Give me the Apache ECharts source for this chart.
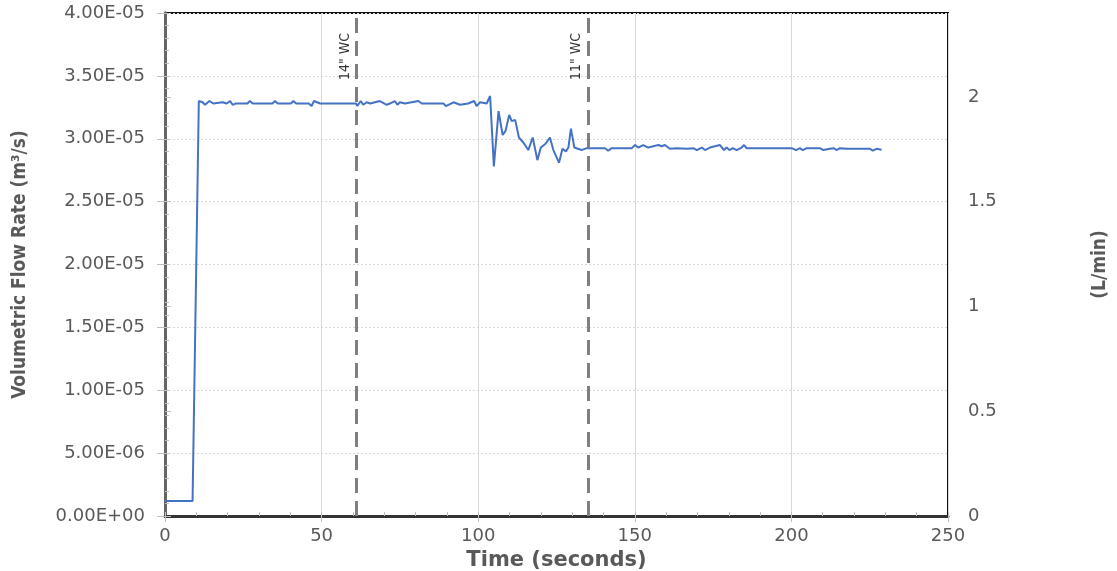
<!DOCTYPE html>
<html lang="en">
<head>
    <meta charset="UTF-8">
    <title>Volumetric Flow Rate</title>
    <script src="https://cdn.jsdelivr.net/npm/echarts@6/dist/echarts.min.js"></script>
    <style>
        html, body { margin: 0; padding: 0; background: #fff; }
        #main { width: 1117px; height: 571px; }
    </style>
</head>
<body>
    <div id="main"></div>
    <script type="text/javascript">
        // time in seconds, flow in units of 1e-5 m3/s
        const times = [
            0, 7, 7.6, 8.8, 10.8,
            12.0, 12.8, 14.2, 15.4, 18.4, 19.7, 20.8, 21.6, 22.5, 26.3, 27.1, 28.0,
            34.3, 35.1, 36.0, 40.2, 41.0, 41.9, 45.9, 46.8, 47.6, 49.5,
            61.0, 61.4, 62.5, 63.3, 64.4, 65.5, 68.6, 70.8, 71.8, 73.4, 74.2, 75.0, 76.6,
            80.9, 82.0, 88.9, 89.7, 92.1, 94.2, 96.8, 98.7, 99.5, 100.6, 102.7,
            103.8, 105.0, 106.5, 107.8, 108.7, 109.9, 110.7, 111.8, 113.0, 114.4, 116.0,
            117.4, 118.9, 120.0, 121.5, 122.9, 124.0, 125.8, 126.9, 128.0, 128.8, 129.6,
            130.7, 133.0, 134.6,
            140.5, 141.5, 142.6, 149.0, 150.1, 151.1, 152.7, 154.3, 155.9, 157.5, 158.6,
            159.6, 161.2, 163.4, 166.6, 168.7, 169.8, 171.4, 172.4, 174.0, 177.2, 178.5,
            179.3, 180.2, 181.3, 182.5, 184.1, 184.9, 185.7, 200.1, 201.5, 202.7, 203.6,
            204.9, 209.1, 210.2, 212.3, 213.6, 214.4, 215.5, 217.7, 225.1, 226.0, 227.2, 228.8
        ];
        const flowE5 = [
            0.12, 0.12, 0.135, 0.12, 3.30,
            3.29, 3.27, 3.30, 3.28, 3.29, 3.28, 3.30, 3.27, 3.28, 3.28, 3.30, 3.28,
            3.28, 3.30, 3.28, 3.28, 3.30, 3.28, 3.28, 3.26, 3.30, 3.28,
            3.28, 3.26, 3.30, 3.27, 3.29, 3.28, 3.30, 3.27, 3.28, 3.30, 3.27, 3.29, 3.28,
            3.30, 3.28, 3.28, 3.26, 3.29, 3.27, 3.28, 3.30, 3.26, 3.29, 3.28,
            3.34, 2.78, 3.22, 3.03, 3.06, 3.19, 3.14, 3.15, 3.01, 2.97, 2.91,
            3.01, 2.83, 2.93, 2.96, 3.01, 2.91, 2.81, 2.92, 2.90, 2.93, 3.08,
            2.93, 2.91, 2.925,
            2.925, 2.905, 2.925, 2.925, 2.95, 2.93, 2.95, 2.93, 2.94, 2.95, 2.94,
            2.95, 2.92, 2.925, 2.92, 2.925, 2.91, 2.93, 2.91, 2.93, 2.95, 2.91,
            2.93, 2.91, 2.925, 2.91, 2.93, 2.95, 2.925, 2.925, 2.91, 2.925, 2.91,
            2.925, 2.925, 2.91, 2.92, 2.925, 2.91, 2.925, 2.92, 2.92, 2.905, 2.92, 2.913
        ];
        const markTimes = [61, 135];
        const markNames = ['14" WC', '11" WC'];

        const gray = '#595959';
        const lblFont = 'DejaVu Sans';
        const narrow = '"Liberation Sans Narrow", "DejaVu Sans Condensed", sans-serif';

        function sciFmt(v) {
            if (v === 0) return '0.00E+00';
            const parts = v.toExponential(2).split('e');
            const n = parseInt(parts[1], 10);
            return parts[0] + 'E' + (n < 0 ? '-' : '+') + String(Math.abs(n)).padStart(2, '0');
        }

        const chart = echarts.init(document.getElementById('main'));

        const option = {
            animation: false,
            grid: {
                left: 165, right: 169, top: 13, bottom: 55,
                outerBoundsMode: 'none',
                show: true, borderColor: '#111', borderWidth: 2
            },
            xAxis: [
                {
                    type: 'value', min: 0, max: 250, interval: 50,
                    name: 'Time (seconds)', nameLocation: 'middle', nameGap: 32,
                    nameTextStyle: { fontFamily: lblFont, fontWeight: 'bold', fontSize: 21, color: gray },
                    axisLine: { show: true, onZero: false, lineStyle: { color: '#333', width: 3 } },
                    axisTick: { show: true, length: 6, lineStyle: { color: '#bfbfbf' } },
                    axisLabel: { fontFamily: lblFont, fontSize: 18, color: gray, margin: 11 },
                    splitLine: { show: true, lineStyle: { color: '#d9d9d9', width: 1 } }
                },
                {
                    // minor ticks every 10 s, drawn inside
                    type: 'value', min: 0, max: 250, interval: 10, position: 'bottom',
                    axisLine: { show: false },
                    axisTick: { show: true, inside: true, length: 4, lineStyle: { color: '#bfbfbf' } },
                    axisLabel: { show: false },
                    splitLine: { show: false }
                }
            ],
            yAxis: [
                {
                    type: 'value', min: 0, max: 4e-5, interval: 5e-6, position: 'left',
                    name: 'Volumetric Flow Rate (m³/s)', nameLocation: 'middle', nameGap: 135,
                    nameTextStyle: { fontFamily: narrow, fontWeight: 'bold', fontSize: 19, color: gray },
                    axisLine: { show: true, onZero: false, lineStyle: { color: '#111', width: 3 } },
                    axisTick: { show: true, length: 8, lineStyle: { color: '#bfbfbf' } },
                    axisLabel: { fontFamily: lblFont, fontSize: 18, color: gray, margin: 20, formatter: sciFmt },
                    splitLine: { show: true, lineStyle: { color: '#d9d9d9', type: [2, 2], width: 1 } }
                },
                {
                    type: 'value', min: 0, max: 2.4, interval: 0.5, position: 'right',
                    name: '(L/min)', nameLocation: 'middle', nameGap: 143, nameRotate: 90,
                    nameTextStyle: { fontFamily: narrow, fontWeight: 'bold', fontSize: 19, color: gray },
                    axisLine: { show: true, lineStyle: { color: '#666', width: 3 } },
                    axisTick: { show: true, length: 6, lineStyle: { color: '#bfbfbf' } },
                    axisLabel: { fontFamily: lblFont, fontSize: 18, color: gray, margin: 20, showMaxLabel: false },
                    splitLine: { show: false }
                },
                {
                    // minor ticks on the left axis
                    type: 'value', min: 0, max: 4e-5, interval: 1e-6, position: 'left',
                    axisLine: { show: false },
                    axisTick: { show: true, inside: true, length: 4, lineStyle: { color: '#bfbfbf' } },
                    axisLabel: { show: false },
                    splitLine: { show: false }
                }
            ],
            series: [
                {
                    type: 'line',
                    xAxisIndex: 0,
                    yAxisIndex: 0,
                    showSymbol: false,
                    lineStyle: { color: '#4472c4', width: 2 },
                    data: times.map((t, i) => [t, flowE5[i] * 1e-5]),
                    markLine: {
                        silent: true,
                        symbol: 'none',
                        lineStyle: { color: '#7f7f7f', width: 3, type: [15, 8] },
                        label: {
                            show: true,
                            position: 'insideEndTop',
                            formatter: '{b}',
                            fontFamily: narrow,
                            fontSize: 14,
                            color: '#333',
                            distance: [20, 4]
                        },
                        data: markTimes.map((t, i) => ({ name: markNames[i], xAxis: t }))
                    }
                }
            ]
        };

        chart.setOption(option);
    </script>
</body>
</html>
